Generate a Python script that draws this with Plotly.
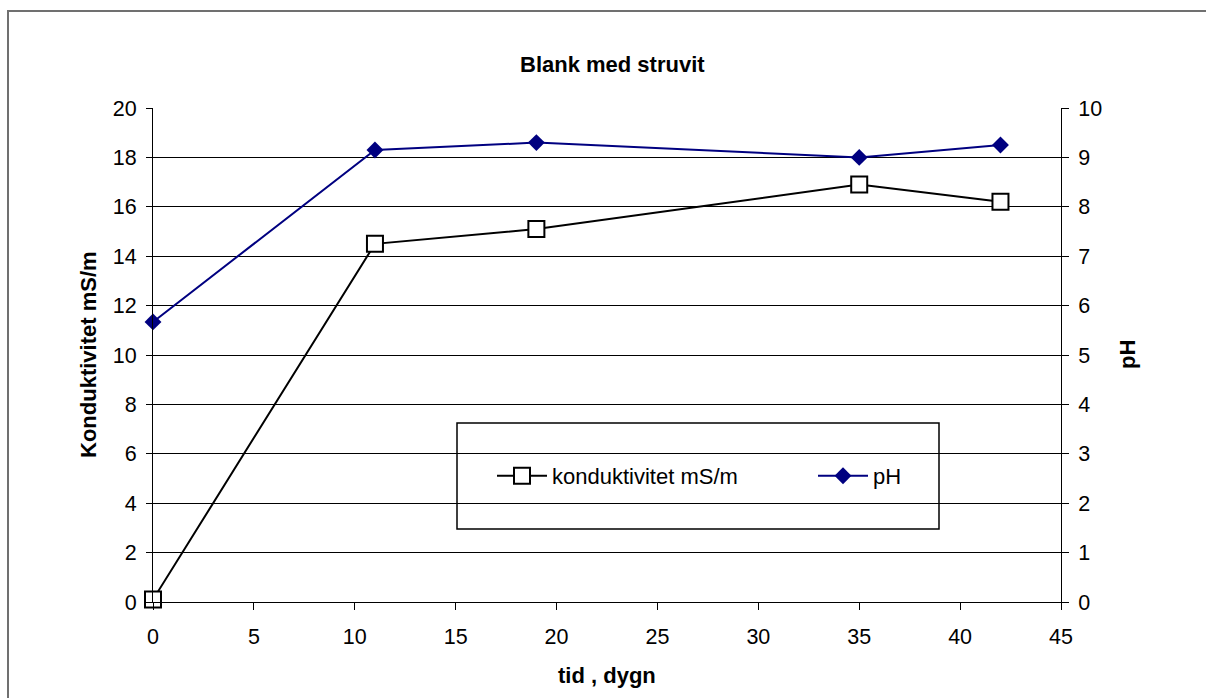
import plotly.graph_objects as go

# Measurements: time in days, conductivity (mS/m) and pH
tid_dygn = [0, 11, 19, 35, 42]
konduktivitet = [0.1, 14.5, 15.1, 16.9, 16.2]
ph_varden = [5.67, 9.15, 9.3, 9.0, 9.25]

x_ticks = [0, 5, 10, 15, 20, 25, 30, 35, 40, 45]
y_ticks = [0, 2, 4, 6, 8, 10, 12, 14, 16, 18, 20]
y2_ticks = [0, 1, 2, 3, 4, 5, 6, 7, 8, 9, 10]

W, H = 1206, 698
L, R, T, B = 153, 1061, 108, 602
FONT = "Arial, Liberation Sans, sans-serif"


def px_x(p):
    return (p - L) / (R - L)


def px_y(p):
    return (B - p) / (B - T)


fig = go.Figure()

fig.add_trace(go.Scatter(
    x=tid_dygn, y=konduktivitet, name="konduktivitet mS/m",
    mode="lines+markers",
    line=dict(color="#000000", width=2),
    marker=dict(symbol="square", size=16, color="#ffffff",
                line=dict(color="#000000", width=2)),
    cliponaxis=False,
))

fig.add_trace(go.Scatter(
    x=tid_dygn, y=ph_varden, name="pH", yaxis="y2",
    mode="lines+markers",
    line=dict(color="#000080", width=2),
    marker=dict(symbol="diamond", size=13, color="#000080",
                line=dict(color="#000080", width=0)),
    cliponaxis=False,
))

tickfont = dict(family=FONT, size=21.5, color="#000000")

fig.update_layout(
    width=W, height=H,
    margin=dict(l=L, r=W - R, t=T, b=H - B),
    paper_bgcolor="#ffffff", plot_bgcolor="#ffffff",
    font=dict(family=FONT, size=22, color="#000000"),
    showlegend=True,
    xaxis=dict(
        range=[0, 45], tickvals=x_ticks, ticktext=[str(v) for v in x_ticks],
        showgrid=False, zeroline=False,
        showline=True, linecolor="#000000", linewidth=1,
        ticks="outside", ticklen=7, tickcolor="#000000", tickwidth=1,
        ticklabelstandoff=8,
        tickfont=tickfont,
    ),
    yaxis=dict(
        range=[0, 20], tickvals=y_ticks, ticktext=[str(v) for v in y_ticks],
        showgrid=True, gridcolor="#000000", gridwidth=1, zeroline=False,
        showline=True, linecolor="#000000", linewidth=1,
        ticks="outside", ticklen=6, tickcolor="#000000", tickwidth=1,
        ticklabelstandoff=5,
        tickfont=tickfont,
    ),
    yaxis2=dict(
        range=[0, 10], tickvals=y2_ticks, ticktext=[str(v) for v in y2_ticks],
        overlaying="y", side="right",
        showgrid=False, zeroline=False,
        showline=True, linecolor="#000000", linewidth=1,
        ticks="outside", ticklen=7, tickcolor="#000000", tickwidth=1,
        ticklabelstandoff=5,
        tickfont=tickfont,
    ),
    legend=dict(
        orientation="h",
        x=px_x(492), xanchor="left",
        y=px_y(476), yanchor="middle",
        bgcolor="rgba(0,0,0,0)", borderwidth=0,
        entrywidth=256, entrywidthmode="pixels",
        font=dict(family=FONT, size=22, color="#000000"),
        itemwidth=50,
    ),
)

# Legend frame
fig.add_shape(type="rect", xref="paper", yref="paper",
              x0=px_x(457), x1=px_x(939), y0=px_y(529), y1=px_y(423),
              line=dict(color="#000000", width=1.5), fillcolor="rgba(0,0,0,0)",
              layer="above")

# Outer chart frame
fig.add_shape(type="rect", xref="paper", yref="paper",
              x0=px_x(8), x1=px_x(1212), y0=px_y(705), y1=px_y(11),
              line=dict(color="#707070", width=2), fillcolor="rgba(0,0,0,0)",
              layer="below")

# Title and axis titles
fig.add_annotation(text="<b>Blank med struvit</b>", xref="paper", yref="paper",
                   x=px_x(612), y=px_y(65), showarrow=False,
                   xanchor="center", yanchor="middle",
                   font=dict(family=FONT, size=22, color="#000000"))
fig.add_annotation(text="<b>tid , dygn</b>", xref="paper", yref="paper",
                   x=px_x(607), y=px_y(675), showarrow=False,
                   xanchor="center", yanchor="middle",
                   font=dict(family=FONT, size=22, color="#000000"))
fig.add_annotation(text="<b>Konduktivitet mS/m</b>", xref="paper", yref="paper",
                   x=px_x(88), y=px_y(355), showarrow=False, textangle=-90,
                   xanchor="center", yanchor="middle",
                   font=dict(family=FONT, size=22, color="#000000"))
fig.add_annotation(text="<b>pH</b>", xref="paper", yref="paper",
                   x=px_x(1127), y=px_y(355), showarrow=False, textangle=-90,
                   xanchor="center", yanchor="middle",
                   font=dict(family=FONT, size=22, color="#000000"))

fig.write_html("out.html")
